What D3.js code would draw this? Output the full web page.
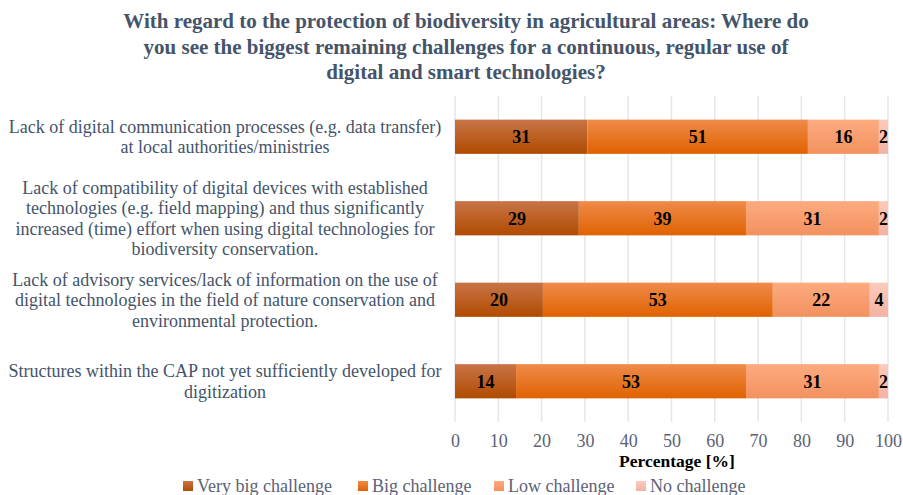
<!DOCTYPE html>
<html>
<head>
<meta charset="utf-8">
<script src="https://cdn.jsdelivr.net/npm/d3@7"></script>
<style>
  body { margin: 0; background: #fff; }
</style>
</head>
<body>
<div id="chart"></div>
<script>
const FONT = "Liberation Serif";

const titleLines = [
    "With regard to the protection of biodiversity in agricultural areas: Where do",
    "you see the biggest remaining challenges for a continuous, regular use of",
    "digital and smart technologies?"
];

const categories = [
    ["Lack of digital communication processes (e.g. data transfer)", "at local authorities/ministries"],
    ["Lack of compatibility of digital devices with established", "technologies (e.g. field mapping) and thus significantly",
     "increased (time) effort when using digital technologies for", "biodiversity conservation."],
    ["Lack of advisory services/lack of information on the use of", "digital technologies in the field of nature conservation and",
     "environmental protection."],
    ["Structures within the CAP not yet sufficiently developed for", "digitization"]
];

const seriesNames = ["Very big challenge", "Big challenge", "Low challenge", "No challenge"];

// values per category, in series order (percent)
const veryBig = [30.6, 28.6, 20.3, 14.1];
const big     = [50.9, 38.6, 53.1, 53.1];
const low     = [16.4, 30.7, 22.4, 30.7];
const none    = [2.1, 2.1, 4.2, 2.1];

const xTicks = [0, 10, 20, 30, 40, 50, 60, 70, 80, 90, 100];

const colorTop = ["#c97447", "#ef8b4a", "#fdab80", "#fccbbb"];
const colorBot = ["#b04b00", "#e06200", "#f3915f", "#f2b3a3"];

const width = 903, height = 495;
const plot = { left: 455, right: 888, top: 96, bottom: 422 };

const svg = d3.select("#chart").append("svg")
    .attr("width", width)
    .attr("height", height)
    .style("font-family", FONT);

const defs = svg.append("defs");
seriesNames.forEach((s, i) => {
    const g = defs.append("linearGradient")
        .attr("id", "grad" + i)
        .attr("x1", 0).attr("y1", 0).attr("x2", 0).attr("y2", 1);
    g.append("stop").attr("offset", "0%").attr("stop-color", colorTop[i]);
    g.append("stop").attr("offset", "100%").attr("stop-color", colorBot[i]);
});

// title
svg.append("text")
    .attr("text-anchor", "middle")
    .style("font-family", FONT)
    .attr("font-weight", "bold")
    .attr("font-size", 21)
    .attr("fill", "#44546a")
    .selectAll("tspan")
    .data(titleLines)
    .join("tspan")
    .attr("x", 466)
    .attr("y", (d, i) => 28 + i * 25.5)
    .text(d => d);

const xScale = d3.scaleLinear()
    .domain([0, 100])
    .range([plot.left, plot.right]);

const yScale = d3.scaleBand()
    .domain(d3.range(categories.length))
    .range([plot.top, plot.bottom])
    .paddingInner(0.58)
    .paddingOuter(0.29);

// gridlines
svg.append("g")
    .selectAll("line")
    .data(xTicks)
    .join("line")
    .attr("x1", d => xScale(d))
    .attr("x2", d => xScale(d))
    .attr("y1", plot.top)
    .attr("y2", plot.bottom)
    .attr("stroke", "#e3e6ec")
    .attr("stroke-width", 1.5);

// x axis
const xAxis = d3.axisBottom(xScale)
    .tickValues(xTicks)
    .tickSize(0)
    .tickPadding(12);

const gx = svg.append("g")
    .attr("transform", `translate(0, ${plot.bottom})`)
    .call(xAxis);
gx.select(".domain").remove();
gx.attr("font-family", null);
gx.selectAll("text")
    .style("font-family", FONT)
    .attr("font-size", 18)
    .attr("fill", "#5b6276");

svg.append("text")
    .attr("x", 677)
    .attr("y", 467)
    .attr("text-anchor", "middle")
    .style("font-family", FONT)
    .attr("font-weight", "bold")
    .attr("font-size", 17.5)
    .attr("fill", "#000")
    .text("Percentage [%]");

// stacked data
const table = categories.map((c, i) => ({
    idx: i,
    "Very big challenge": veryBig[i],
    "Big challenge": big[i],
    "Low challenge": low[i],
    "No challenge": none[i]
}));
const stacked = d3.stack().keys(seriesNames)(table);

const layers = svg.append("g")
    .selectAll("g")
    .data(stacked)
    .join("g")
    .attr("fill", (d, i) => `url(#grad${i})`);

layers.selectAll("rect")
    .data(d => d)
    .join("rect")
    .attr("x", d => xScale(d[0]))
    .attr("y", d => yScale(d.data.idx))
    .attr("width", d => xScale(d[1]) - xScale(d[0]))
    .attr("height", yScale.bandwidth());

// data labels
const labels = svg.append("g");
stacked.forEach(layer => {
    labels.selectAll(null)
        .data(layer)
        .join("text")
        .attr("x", d => (xScale(d[0]) + xScale(d[1])) / 2)
        .attr("y", d => yScale(d.data.idx) + yScale.bandwidth() / 2)
        .attr("dy", "0.35em")
        .attr("text-anchor", "middle")
        .style("font-family", FONT)
        .attr("font-weight", "bold")
        .attr("font-size", 18)
        .attr("fill", "#000")
        .text(d => Math.round(d[1] - d[0]));
});

// category labels
const catG = svg.append("g");
categories.forEach((lines, i) => {
    const cy = yScale(i) + yScale.bandwidth() / 2;
    const lh = 20.5;
    catG.append("text")
        .attr("text-anchor", "middle")
        .style("font-family", FONT)
        .attr("font-size", 18)
        .attr("fill", "#44546a")
        .selectAll("tspan")
        .data(lines)
        .join("tspan")
        .attr("x", 225)
        .attr("y", (d, j) => cy + (j - (lines.length - 1) / 2) * lh)
        .attr("dy", "0.35em")
        .text(d => d);
});

// legend
const legendX = [183, 358, 494, 636];
const legend = svg.append("g")
    .selectAll("g")
    .data(seriesNames)
    .join("g")
    .attr("transform", (d, i) => `translate(${legendX[i]}, 486)`);

legend.append("rect")
    .attr("x", 0)
    .attr("y", -5)
    .attr("width", 10)
    .attr("height", 10)
    .attr("fill", (d, i) => `url(#grad${i})`);

legend.append("text")
    .attr("x", 14)
    .attr("dy", "0.35em")
    .style("font-family", FONT)
    .attr("font-size", 18)
    .attr("fill", "#5b6276")
    .text(d => d);
</script>
</body>
</html>
